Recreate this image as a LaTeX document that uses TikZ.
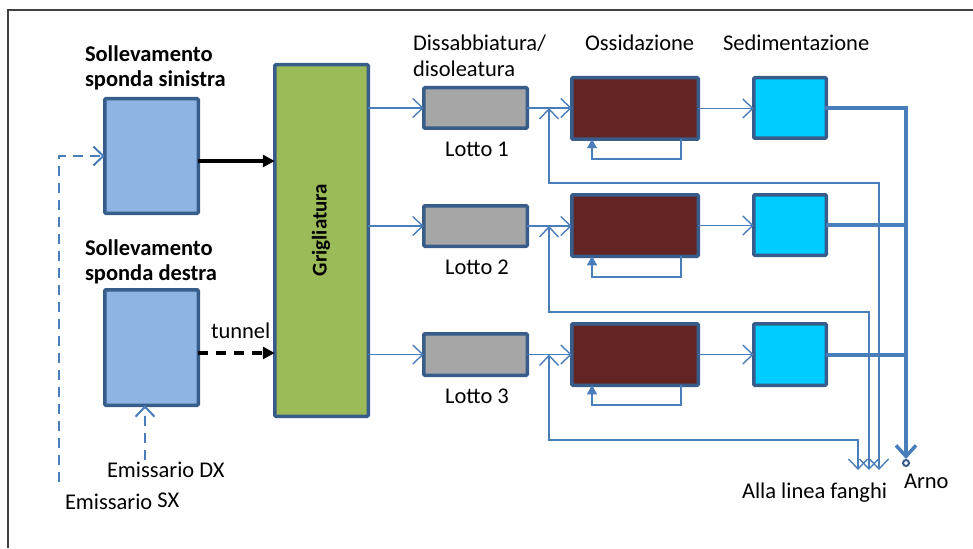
\documentclass[tikz,border=0pt]{standalone}
\usepackage{fontspec}
\setmainfont{Carlito}
\usetikzlibrary{arrows.meta}
\definecolor{bordc}{RGB}{56,93,138}
\definecolor{lblue}{RGB}{142,180,227}
\definecolor{ggreen}{RGB}{155,187,89}
\definecolor{ggray}{RGB}{166,166,166}
\definecolor{dred}{RGB}{99,37,35}
\definecolor{ccyan}{RGB}{0,204,255}
\definecolor{lineblue}{RGB}{74,126,187}
\definecolor{framec}{RGB}{64,64,64}
\tikzset{
  box/.style={draw=bordc, line width=3.5pt, rounded corners=1pt, inner sep=0pt, outer sep=0pt},
  txt/.style={inner sep=0pt, outer sep=0pt, font=\fontsize{22.5}{25}\selectfont},
  btxt/.style={inner sep=0pt, outer sep=0pt, font=\fontsize{22.5}{25}\selectfont\bfseries},
  flow/.style={draw=lineblue, line width=1.3pt},
  barbtip/.tip={Straight Barb[length=10pt,width=19pt,line width=1.4pt]},
  obarb/.style={-barbtip},
  ftri/.style={-{Triangle[length=9pt,width=10pt]}},
  blackarrow/.style={draw=black, line width=3.5pt, -{Triangle[length=12pt,width=12pt]}},
  dashblue/.style={draw=lineblue, line width=2.2pt, dash pattern=on 10pt off 7pt, -{Straight Barb[length=10pt,width=19pt,line width=2pt]}},
  arnoline/.style={draw=lineblue, line width=4pt},
}
\begin{document}
\begin{tikzpicture}[x=1pt,y=-1pt]
\useasboundingbox (0,0) rectangle (973,548);
\draw[framec, line width=1.3pt] (8,548) -- (8,10) -- (973,10);

% boxes
\node[box, fill=lblue, minimum width=93.5pt, minimum height=114.5pt] (sin) at (151.5,156) {};
\node[box, fill=lblue, minimum width=93.5pt, minimum height=115.5pt] (des) at (151.5,347.5) {};
\node[box, fill=ggreen, minimum width=93.5pt, minimum height=351.5pt] (grig) at (321.5,240.5) {};
\node[btxt, rotate=90, font=\fontsize{21}{25}\selectfont\bfseries] (glabel) at (321,230) {Grigliatura};

\node[box, fill=ggray, minimum width=103.5pt, minimum height=40.5pt] (dis1) at (475.5,108) {};
\node[box, fill=ggray, minimum width=103.5pt, minimum height=40.5pt] (dis2) at (475.5,226) {};
\node[box, fill=ggray, minimum width=103.5pt, minimum height=41.5pt] (dis3) at (475.5,354.5) {};

\node[box, fill=dred, minimum width=126.5pt, minimum height=61.5pt] (oss1) at (635,108.5) {};
\node[box, fill=dred, minimum width=126.5pt, minimum height=61.5pt] (oss2) at (635,225.5) {};
\node[box, fill=dred, minimum width=126.5pt, minimum height=61.5pt] (oss3) at (635,354.5) {};

\node[box, fill=ccyan, minimum width=72.5pt, minimum height=60.5pt] (sed1) at (790,108) {};
\node[box, fill=ccyan, minimum width=72.5pt, minimum height=60.5pt] (sed2) at (790,225) {};
\node[box, fill=ccyan, minimum width=72.5pt, minimum height=61.5pt] (sed3) at (790,354.5) {};

% texts
\node[btxt, anchor=base west] (t1a) at (85,62) {Sollevamento};
\node[btxt, anchor=base west] (t1b) at (85,87) {sponda sinistra};
\node[btxt, anchor=base west] (t2a) at (85,255) {Sollevamento};
\node[btxt, anchor=base west] (t2b) at (85,280) {sponda destra};
\node[txt, anchor=base west] (tun) at (211,338) {tunnel};
\node[txt, anchor=base west] (edx) at (107,477) {Emissario DX};
\node[txt, anchor=base west] (esx) at (65,509) {Emissario \raisebox{2pt}{SX}};
\node[txt, anchor=base west] (tdis1) at (413,51) {Dissabbiatura/};
\node[txt, anchor=base west] (tdis2) at (413,77) {disoleatura};
\node[txt, anchor=base west] (toss) at (585,51) {Ossidazione};
\node[txt, anchor=base west] (tsed) at (723,51) {Sedimentazione};
\node[txt, anchor=base] (l1) at (477,157) {Lotto 1};
\node[txt, anchor=base] (l2) at (477,274) {Lotto 2};
\node[txt, anchor=base] (l3) at (477,403) {Lotto 3};
\node[txt, anchor=base west] (fanghi) at (742,498) {Alla linea fanghi};
\node[txt, anchor=base west] (tarno) at (904,488) {Arno};

% inputs
\coordinate (sxin) at (59,482);
\coordinate (dxin) at (145,460);
\draw[dashblue] (sxin) |- (sin.west);
\draw[dashblue] (dxin) -- (dxin |- des.south);
\draw[blackarrow] ([yshift=-5pt]sin.east) -- ([yshift=-5pt]sin.east -| grig.west);
\draw[blackarrow, dash pattern=on 10pt off 8pt] ([yshift=-5.5pt]des.east) -- ([yshift=-5.5pt]des.east -| grig.west);

% lines
\foreach \i/\yb/\yr/\xf in {1/159/183/879, 2/277/312/869, 3/405/440/858} {
  \draw[flow, obarb] (grig.east |- dis\i.west) -- (dis\i.west);
  \draw[flow, obarb] (dis\i.east) -- (dis\i.east -| oss\i.west);
  \draw[flow, obarb] (oss\i.east) -- (oss\i.east -| sed\i.west);
  \draw[flow, ftri] (oss\i.south -| 681,0) |- (592,\yb) -- (oss\i.south -| 592,0);
  \coordinate (j\i) at (dis\i.east -| 549,0);
  \coordinate (fang\i) at (\xf,470);
  \draw[flow, barbtip-barbtip] (j\i) |- (\xf,\yr) -- (fang\i);
}

% Arno
\node[circle, draw=bordc, line width=2pt, fill=white, minimum size=6pt, inner sep=0pt] (arno) at (906,463) {};
\draw[arnoline, line cap=round, -{Straight Barb[length=11pt,width=20pt,line width=3.5pt]}] (sed1.east) -| (arno.north);
\draw[arnoline] (sed2.east) -- (sed2.east -| arno.north);
\draw[arnoline] (sed3.east) -- (sed3.east -| arno.north);
\end{tikzpicture}
\end{document}
